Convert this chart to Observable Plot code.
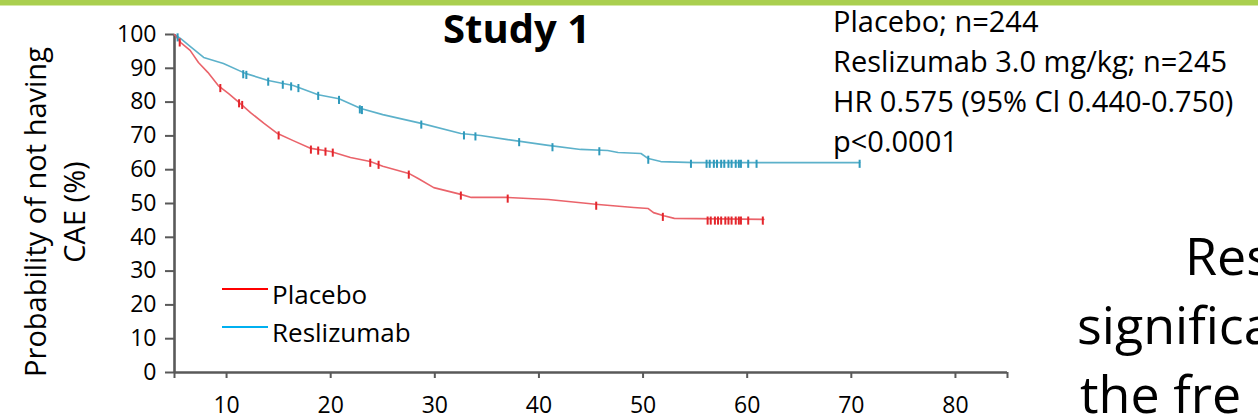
<!DOCTYPE html>
<html>
<head>
<meta charset="utf-8">
<script src="https://cdn.jsdelivr.net/npm/d3@7"></script>
<script src="https://cdn.jsdelivr.net/npm/@observablehq/plot@0.6"></script>
<style>
  html, body { margin: 0; padding: 0; background: #fff; }
  #wrap { position: relative; width: 1258px; height: 420px; overflow: hidden; font-family: "Open Sans", sans-serif; }
  #wrap > svg { position: absolute; left: 0; top: 0; }
  #bar { position: absolute; left: 0; top: 0; width: 1258px; height: 5px; background: #aacf4f; border-bottom: 1px solid #d6e8a6; }
</style>
</head>
<body>
<div id="wrap"><div id="bar"></div></div>
<script>
// ---- Data ----
const xTicks = [10, 20, 30, 40, 50, 60, 70, 80];
const yTicks = [0, 10, 20, 30, 40, 50, 60, 70, 80, 90, 100];

const reslizumabTime = [5, 5.6, 6.5, 7.8, 9.7, 11.8, 14.0, 16.4, 18.8, 20.8, 22.9, 25.0, 28.7, 32.5, 34.4, 37.0, 40.9, 44.0, 46.6, 47.6, 49.8, 50.5, 51.7, 55.0, 60.0, 70.8];
const reslizumabSurv = [100, 98.8, 96.5, 93.2, 91.4, 88.5, 86.4, 84.9, 82.2, 81.0, 78.1, 76.3, 73.7, 70.7, 70.1, 68.9, 67.2, 66.0, 65.7, 65.1, 64.8, 63.3, 62.4, 62.1, 62.1, 62.1];

const placeboTime = [5, 5.6, 6.5, 7.3, 8.2, 9.2, 10.2, 11.3, 12.3, 13.6, 14.9, 16.4, 18.1, 20.0, 21.9, 23.8, 25.0, 27.5, 28.4, 29.9, 32.5, 33.5, 37.0, 40.9, 45.7, 49.1, 50.5, 51.0, 52.0, 53.0, 61.6];
const placeboSurv = [100, 97.6, 95.3, 91.7, 88.8, 84.9, 82.5, 79.6, 76.9, 73.7, 70.7, 68.6, 66.3, 65.4, 63.6, 62.4, 61.0, 58.9, 57.4, 54.7, 52.7, 51.8, 51.8, 51.2, 49.7, 48.8, 48.5, 47.3, 46.4, 45.6, 45.3];

const reslizumabCensorTime = [5.3, 11.6, 11.9, 14.0, 15.4, 16.2, 16.9, 18.8, 20.8, 22.8, 23.0, 28.7, 32.8, 33.9, 38.1, 41.3, 45.8, 50.5, 54.6, 56.1, 56.4, 56.8, 57.1, 57.5, 57.8, 58.2, 58.5, 58.9, 59.2, 59.4, 60.1, 60.9, 70.8];
const reslizumabCensorSurv = [99.5, 88.6, 88.4, 86.4, 85.5, 85.0, 84.5, 82.2, 81.0, 78.2, 78.0, 73.7, 70.5, 70.2, 68.5, 67.0, 65.8, 63.3, 62.1, 62.1, 62.1, 62.1, 62.1, 62.1, 62.1, 62.1, 62.1, 62.1, 62.1, 62.1, 62.1, 62.1, 62.1];

const placeboCensorTime = [5.5, 9.4, 11.2, 11.5, 15.0, 18.1, 18.8, 19.5, 20.2, 23.8, 24.6, 27.5, 32.5, 37.0, 45.5, 51.9, 56.2, 56.5, 56.9, 57.2, 57.5, 57.9, 58.2, 58.5, 58.9, 59.2, 59.4, 60.1, 61.5];
const placeboCensorSurv = [98.0, 84.5, 80.0, 79.5, 70.5, 66.3, 66.0, 65.7, 65.4, 62.4, 61.8, 58.9, 52.7, 51.8, 49.7, 46.4, 45.3, 45.3, 45.3, 45.3, 45.3, 45.3, 45.3, 45.3, 45.3, 45.3, 45.3, 45.3, 45.3];

const seriesNames = ["Placebo", "Reslizumab"];
const legendColors = ["#ff0000", "#00b0f0"];
const annotationLines = ["Placebo; n=244", "Reslizumab 3.0 mg/kg; n=245", "HR 0.575 (95% Cl 0.440-0.750)", "p<0.0001"];
const titleText = "Study 1";
const yLabelLines = ["Probability of not having", "CAE (%)"];
const sideTextLines = ["Res", "significa", "the fre"];

// ---- Build tables ----
const resli = reslizumabTime.map((t, i) => ({t, s: reslizumabSurv[i]}));
const plac = placeboTime.map((t, i) => ({t, s: placeboSurv[i]}));
const resliC = reslizumabCensorTime.map((t, i) => ({t, s: reslizumabCensorSurv[i]}));
const placC = placeboCensorTime.map((t, i) => ({t, s: placeboCensorSurv[i]}));

const axisGray = "#595959";
const blue = "#4aa8c4";
const red = "#e8525a";

const chart = Plot.plot({
  width: 1258,
  height: 420,
  marginLeft: 174,
  marginRight: 251,
  marginTop: 34,
  marginBottom: 48,
  x: {domain: [5, 85]},
  y: {domain: [0, 100]},
  style: {fontFamily: "'Open Sans', sans-serif", fontSize: "23px", color: "#000", background: "transparent", overflow: "visible"},
  marks: [
    Plot.axisY({ticks: yTicks, tickSize: 9, tickPadding: 9, stroke: axisGray, strokeWidth: 2, label: null, fontSize: 23}),
    Plot.axisX({ticks: [5, ...xTicks, 85], tickFormat: d => xTicks.includes(d) ? String(d) : "", tickSize: 6, tickPadding: 18, stroke: axisGray, strokeWidth: 2, label: null, fontSize: 23}),
    Plot.ruleX([5], {stroke: axisGray, strokeWidth: 2.6}),
    Plot.ruleY([0], {stroke: axisGray, strokeWidth: 2.6}),
    Plot.line(resli, {x: "t", y: "s", stroke: blue, strokeWidth: 1.6, strokeOpacity: 0.9}),
    Plot.line(plac, {x: "t", y: "s", stroke: red, strokeWidth: 1.6, strokeOpacity: 0.9}),
    Plot.ruleX(resliC, {x: "t", y1: d => d.s - 1.7, y2: d => d.s + 0.7, stroke: "#2f9abc", strokeWidth: 2}),
    Plot.ruleX(placC, {x: "t", y1: d => d.s - 1.7, y2: d => d.s + 0.7, stroke: "#e4262c", strokeWidth: 2})
  ]
});

const wrap = document.getElementById("wrap");
wrap.insertBefore(chart, document.getElementById("bar"));

// ---- Text overlay ----
const ov = d3.select(wrap).append("svg")
  .attr("width", 1258).attr("height", 420)
  .style("font-family", "'Open Sans', sans-serif");

// Title
ov.append("text").attr("x", 443).attr("y", 43)
  .attr("font-size", 40).attr("font-weight", 700).attr("fill", "#000").text(titleText);

// Annotation block
annotationLines.forEach((line, i) => {
  ov.append("text").attr("x", 833).attr("y", 32 + i * 40)
    .attr("font-size", 29).attr("fill", "#000").text(line);
});

// Y label (two lines, rotated)
const yl = ov.append("g").attr("transform", "translate(46,212) rotate(-90)");
yLabelLines.forEach((line, i) => {
  yl.append("text").attr("x", 0).attr("y", i * 39)
    .attr("text-anchor", "middle").attr("font-size", 29).attr("fill", "#000").text(line);
});

// Legend
seriesNames.forEach((name, i) => {
  ov.append("line").attr("x1", 222).attr("x2", 268)
    .attr("y1", 289 + i * 38).attr("y2", 289 + i * 38)
    .attr("stroke", legendColors[i]).attr("stroke-width", 2);
  ov.append("text").attr("x", 272).attr("y", 304 + i * 38)
    .attr("font-size", 26).attr("fill", "#000").text(name);
});

// Side text (cut off at the right edge, as in the reference)
const sideX = [1185, 1077, 1080];
sideTextLines.forEach((line, i) => {
  ov.append("text").attr("x", sideX[i]).attr("y", 275 + i * 69)
    .attr("font-size", 52).attr("fill", "#000").text(line);
});
</script>
</body>
</html>
